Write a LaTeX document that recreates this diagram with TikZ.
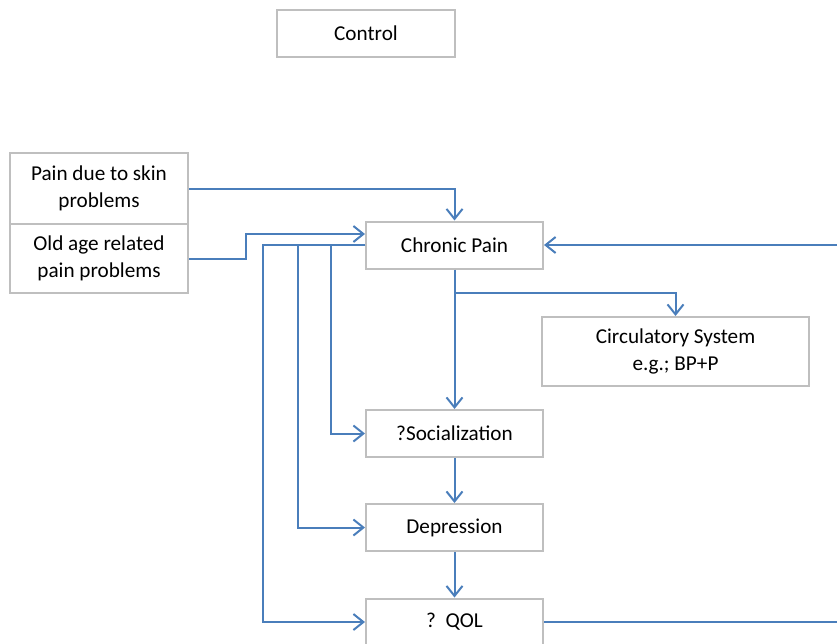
\documentclass[tikz,border=0pt]{standalone}
\usepackage{fontspec}
\setmainfont{Carlito}
\usetikzlibrary{arrows.meta}
\begin{document}
\begin{tikzpicture}[x=1pt,y=-1pt,
  box/.style={draw=black!25, line width=2pt, fill=white, inner sep=0pt, align=center,
    font=\fontsize{21.2}{27}\selectfont},
  arr/.style={draw=conn, line width=2pt, -{Straight Barb[length=10pt,width=16pt,line width=2pt]}}]
\definecolor{conn}{HTML}{4A7EBB}
\useasboundingbox (0,0) rectangle (837,643);
\clip (0,0) rectangle (837,643);
\node[box, minimum width=178pt, minimum height=47pt] (control) at (366,33.5) {Control};
\node[box, minimum width=178pt, minimum height=71pt] (skin) at (99,188.5) {Pain due to skin\\problems};
\node[box, minimum width=178pt, minimum height=69pt] (old) at (99,258.5) {Old age related\\pain problems};
\node[box, minimum width=177pt, minimum height=47pt] (chronic) at (454.5,245) {Chronic Pain};
\node[box, minimum width=267pt, minimum height=69pt] (circ) at (675.5,351.5) {Circulatory System\\e.g.; BP+P};
\node[box, minimum width=177pt, minimum height=47pt] (social) at (454.5,433.5) {?Socialization};
\node[box, minimum width=177pt, minimum height=47pt] (dep) at (454.5,527.5) {Depression};
\node[box, minimum width=177pt, minimum height=47pt] (qol) at (454.5,622) {?\ \ QOL};
\coordinate (j1) at (246,234);
\coordinate (L1) at (263,0);
\coordinate (L2) at (298,0);
\coordinate (L3) at (331,0);
\coordinate (br) at (454.5,293);
\coordinate (R) at (850,0);
\draw[arr] (skin.east) -| (chronic.north);
\draw[arr] (old.east) -| (j1) -- (chronic.west |- j1);
\draw[arr] (chronic.west) -- (chronic.west -| L1) |- (qol.west);
\draw[arr] (chronic.west) -- (chronic.west -| L2) |- (dep.west);
\draw[arr] (chronic.west) -- (chronic.west -| L3) |- (social.west);
\draw[arr] (chronic.south) -- (social.north);
\draw[arr] (br) -| (circ.north);
\draw[arr] (social.south) -- (dep.north);
\draw[arr] (dep.south) -- (qol.north);
\draw[arr] (qol.east) -- (qol.east -| R) -- (chronic.east -| R) -- (chronic.east);
\end{tikzpicture}
\end{document}
